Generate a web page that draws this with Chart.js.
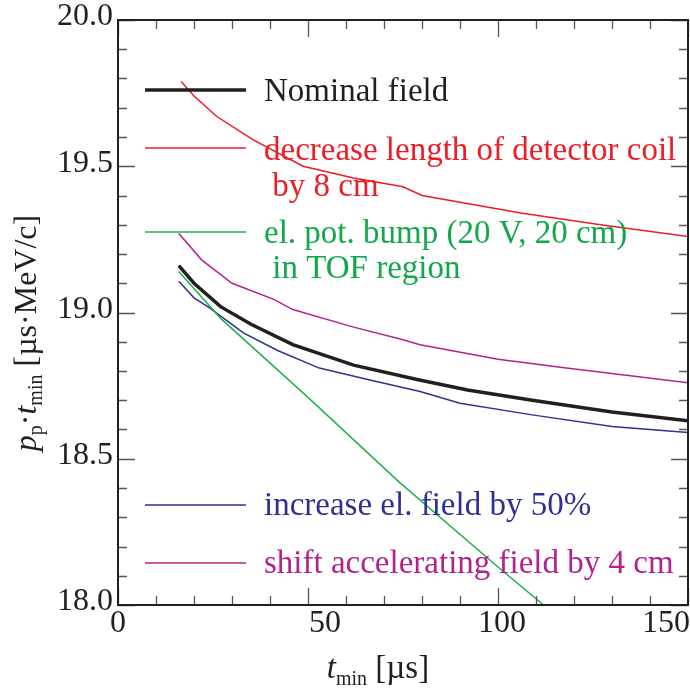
<!DOCTYPE html>
<html>
<head>
<meta charset="utf-8">
<script src="https://cdn.jsdelivr.net/npm/chart.js@4.4.1/dist/chart.umd.min.js"></script>
<style>
    body { margin: 0; background: #fff; }
    canvas { display: block; }
</style>
</head>
<body>
<canvas id="chart" width="690" height="690"></canvas>
<script>
// values (t_min in µs, p_p*t_min in µs·MeV/c)
const tNominal = [16, 20, 27, 35, 46, 62, 79, 92, 109, 130, 150];
const pNominal = [19.16, 19.10, 19.02, 18.96, 18.89, 18.82, 18.77, 18.735, 18.70, 18.66, 18.63];

const tCoil = [16.6, 20, 26, 35.6, 48.7, 62, 75, 80, 106, 127, 150];
const pCoil = [19.79, 19.74, 19.67, 19.59, 19.50, 19.46, 19.43, 19.40, 19.34, 19.30, 19.26];

const tBump = [16, 27, 50, 74, 100, 112];
const pBump = [19.14, 18.98, 18.71, 18.42, 18.13, 18.0];

const tField = [16, 20, 24, 33, 42, 53, 66, 79.5, 90, 109, 130, 150];
const pField = [19.107, 19.05, 19.017, 18.93, 18.87, 18.81, 18.77, 18.73, 18.69, 18.65, 18.61, 18.59];

const tShift = [16, 22, 30, 41, 46, 62, 74, 79.5, 100, 118, 150];
const pShift = [19.27, 19.18, 19.10, 19.045, 19.01, 18.95, 18.91, 18.89, 18.84, 18.81, 18.76];

const xTickValues = [0, 50, 100, 150];
const yTickValues = [18.0, 18.5, 19.0, 19.5, 20.0];

const SERIF = '"Liberation Serif", "Times New Roman", serif';

function pairs(xs, ys) {
    return xs.map((x, i) => ({ x: x, y: ys[i] }));
}

function series(label, xs, ys, color, width) {
    return {
        label: label,
        data: pairs(xs, ys),
        borderColor: color,
        backgroundColor: color,
        borderWidth: width,
        pointRadius: 0,
        tension: 0,
        fill: false
    };
}

// frame with inward ticks on all four sides, plus tick labels
const framePlugin = {
    id: 'frame',
    afterDatasetsDraw(chart) {
        const ctx = chart.ctx;
        const a = chart.chartArea;
        const xs = chart.scales.x;
        const ys = chart.scales.y;
        ctx.save();

        ctx.strokeStyle = '#555';
        ctx.lineWidth = 1.3;
        ctx.beginPath();
        for (let v = 0; v <= 150; v += 10) {
            const px = Math.round(xs.getPixelForValue(v)) + 0.5;
            const len = v % 50 === 0 ? 17 : 9;
            ctx.moveTo(px, a.bottom); ctx.lineTo(px, a.bottom - len);
            ctx.moveTo(px, a.top); ctx.lineTo(px, a.top + len);
        }
        for (let i = 0; i <= 20; i++) {
            const py = Math.round(ys.getPixelForValue(18 + i / 10)) + 0.5;
            const len = i % 5 === 0 ? 17 : 9;
            ctx.moveTo(a.left, py); ctx.lineTo(a.left + len, py);
            ctx.moveTo(a.right, py); ctx.lineTo(a.right - len, py);
        }
        ctx.stroke();

        ctx.strokeStyle = '#231f20';
        ctx.lineWidth = 2;
        ctx.strokeRect(a.left, a.top, a.right - a.left, a.bottom - a.top);

        ctx.fillStyle = '#231f20';
        ctx.font = '32px ' + SERIF;
        ctx.textBaseline = 'middle';
        ctx.textAlign = 'right';
        yTickValues.forEach(v => {
            ctx.fillText(v.toFixed(1), a.left - 5, ys.getPixelForValue(v) - 3);
        });
        ctx.textAlign = 'center';
        const shift = [0, 17, 4, 0];
        xTickValues.forEach((v, i) => {
            const txt = String(v);
            const w = ctx.measureText(txt).width;
            let cx = xs.getPixelForValue(v) + shift[i];
            if (cx + w / 2 > chart.width) cx = chart.width - w / 2;
            ctx.fillText(txt, cx, a.bottom + 19);
        });
        ctx.restore();
    }
};

// draw mixed italic / subscript text, centred on x=0 at baseline y=0
function drawRich(ctx, parts, size) {
    const subSize = Math.round(size * 0.62);
    function fontOf(p) {
        return (p.italic ? 'italic ' : '') + (p.sub ? subSize : size) + 'px ' + SERIF;
    }
    let total = 0;
    parts.forEach(p => { ctx.font = fontOf(p); total += ctx.measureText(p.text).width; });
    let x = -total / 2;
    parts.forEach(p => {
        ctx.font = fontOf(p);
        ctx.fillText(p.text, x, p.sub ? size * 0.2 : 0);
        x += ctx.measureText(p.text).width;
    });
}

const titlePlugin = {
    id: 'titles',
    afterDraw(chart) {
        const ctx = chart.ctx;
        ctx.save();
        ctx.fillStyle = '#231f20';
        ctx.textAlign = 'left';
        ctx.textBaseline = 'alphabetic';

        ctx.save();
        ctx.translate(378, 678);
        drawRich(ctx, [
            { text: 't', italic: true },
            { text: 'min', sub: true },
            { text: ' [µs]' }
        ], 33);
        ctx.restore();

        ctx.save();
        ctx.translate(36, 333);
        ctx.rotate(-Math.PI / 2);
        drawRich(ctx, [
            { text: 'p', italic: true },
            { text: 'p', sub: true },
            { text: '·' },
            { text: 't', italic: true },
            { text: 'min', sub: true },
            { text: ' [µs·MeV/c]' }
        ], 32);
        ctx.restore();
        ctx.restore();
    }
};

// legend drawn inside the plot like the original figure
const legendRows = [
    { line: 90, base: [101] },
    { line: 148, base: [160, 196] },
    { line: 232, base: [243, 278] },
    { line: 505, base: [515] },
    { line: 563, base: [573] }
];

const legendPlugin = {
    id: 'inlineLegend',
    afterDraw(chart) {
        const ctx = chart.ctx;
        ctx.save();
        ctx.font = '33px ' + SERIF;
        ctx.textAlign = 'left';
        ctx.textBaseline = 'alphabetic';
        chart.data.datasets.forEach((ds, i) => {
            const row = legendRows[i];
            ctx.strokeStyle = ds.borderColor;
            ctx.lineWidth = ds.borderWidth;
            ctx.beginPath();
            ctx.moveTo(145, row.line);
            ctx.lineTo(246, row.line);
            ctx.stroke();
            ctx.fillStyle = ds.textColor || ds.borderColor;
            const lines = Array.isArray(ds.label) ? ds.label : [ds.label];
            lines.forEach((txt, k) => ctx.fillText(txt, 264, row.base[k]));
        });
        ctx.restore();
    }
};

const datasets = [
    series('Nominal field', tNominal, pNominal, '#231f20', 3.5),
    series(['decrease length of detector coil', ' by 8 cm'], tCoil, pCoil, '#ee1c25', 1.5),
    series(['el. pot. bump (20 V, 20 cm)', ' in TOF region'], tBump, pBump, '#1fb14c', 1.5),
    series('increase el. field by 50%', tField, pField, '#2e3192', 1.5),
    series('shift accelerating field by 4 cm', tShift, pShift, '#b2228f', 1.5)
];
datasets[2].textColor = '#12a84a';

new Chart(document.getElementById('chart').getContext('2d'), {
    type: 'line',
    data: { datasets: datasets },
    options: {
        responsive: false,
        animation: false,
        layout: { padding: { left: 118, top: 20, right: 2, bottom: 85 } },
        scales: {
            x: { type: 'linear', min: 0, max: 150, display: false },
            y: { type: 'linear', min: 18, max: 20, display: false }
        },
        plugins: {
            legend: { display: false },
            tooltip: { enabled: false }
        }
    },
    plugins: [framePlugin, titlePlugin, legendPlugin]
});
</script>
</body>
</html>
